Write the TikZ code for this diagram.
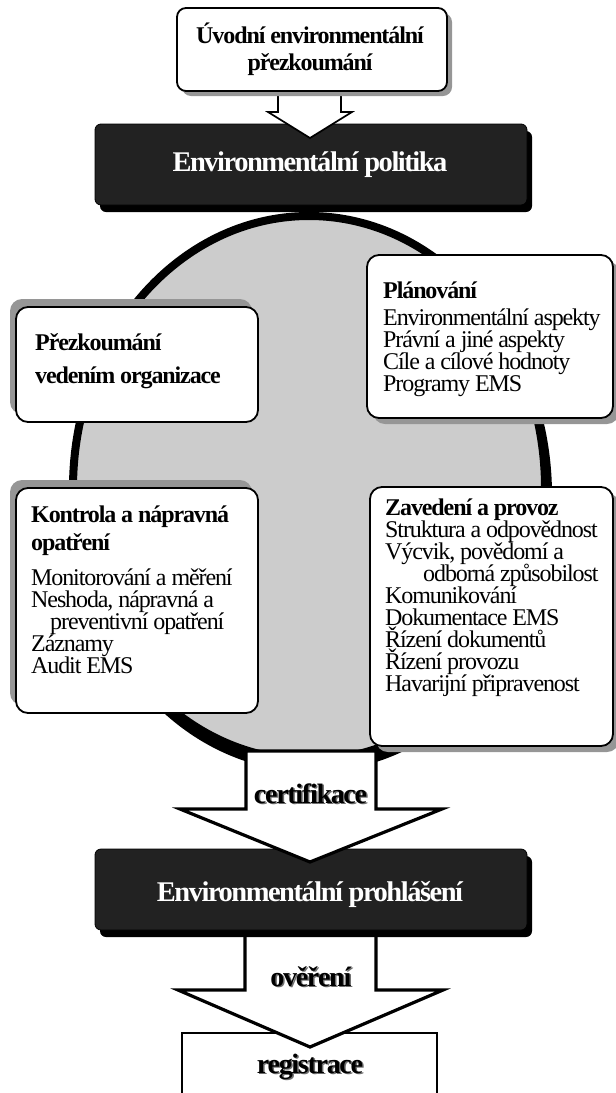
\documentclass[tikz,border=0pt]{standalone}
\usepackage{fontspec}
\setmainfont{Liberation Serif}[LetterSpace=-4.6]
\newfontfamily\titlefont{Liberation Serif}[LetterSpace=-5.2]
\usetikzlibrary{shapes.geometric,shadows}
\definecolor{cgray}{RGB}{204,204,204}
\definecolor{sgray}{RGB}{150,150,150}
\definecolor{dbox}{RGB}{34,34,34}
\definecolor{lshadow}{RGB}{110,110,110}
\newcommand\tightls{\lineskiplimit-100pt\relax}
\begin{document}
\begin{tikzpicture}[x=1pt,y=-1pt,
  wbox/.style={draw, line width=1.8pt, fill=white, rounded corners=12pt, inner sep=0pt},
  shBR/.style={drop shadow={shadow xshift=6pt, shadow yshift=-6pt, fill=sgray, opacity=1}},
  shUL/.style={drop shadow={shadow xshift=-6pt, shadow yshift=8pt, fill=sgray, opacity=1}},
  bbox/.style={fill=dbox, draw=black, line width=0.8pt, rounded corners=6pt, inner sep=0pt,
    drop shadow={shadow xshift=5pt, shadow yshift=-7pt, fill=black, opacity=1}},
  barrow/.style={draw, fill=white, line width=3.2pt, line join=miter},
  txt/.style={inner sep=0pt, align=left, anchor=north west,
    font=\fontsize{24}{22}\selectfont\tightls},
  ttl/.style={inner sep=0pt, anchor=base, text=white, font=\titlefont\fontsize{28.5}{30}\selectfont\bfseries},
  lbl/.style={inner sep=0pt, anchor=base, font=\fontsize{28}{30}\selectfont\bfseries}]
\useasboundingbox (0,0) rectangle (616,1093);
\clip (0,0) rectangle (616,1093);

% cycle ellipse
\fill[black] (312,495) ellipse [x radius=240, y radius=277];
\node (cyc) [ellipse, draw=black, line width=8pt, fill=cgray, minimum width=472pt,
  minimum height=544pt, inner sep=0pt] at (309,488) {};

% Environmental policy
\node (pol) [bbox, minimum width=432pt, minimum height=81pt] at (311,164.5) {};
\node (poltxt) [ttl] at (310,171.7) {Environmentální politika};

% arrow 1
\draw[draw, fill=white, line width=1.7pt, line join=miter]
  (278,91) -- (278,112) -- (268,112) -- (310,138) -- (352,112) -- (341,112) -- (341,91) -- cycle;

% initial review
\node (init) [wbox, rounded corners=9pt, minimum width=270pt, minimum height=83pt,
  drop shadow={shadow xshift=5pt, shadow yshift=-5pt, fill=sgray, opacity=1}] at (312,49.5) {};
\node (inittxt) [inner sep=0pt, align=center, anchor=north,
  font=\fontsize{24}{27}\selectfont\bfseries\tightls] at (310,22.7)
  {\rule{0pt}{20pt}Úvodní environmentální\\přezkoumání};

% management review
\node (rev) [wbox, shUL, minimum width=242pt, minimum height=115pt] at (137,364.5) {};
\node (revtxt) [txt] at (35,330.7)
  {\rule{0pt}{20pt}\textbf{Přezkoumání}\\[10.7pt]\textbf{vedením organizace}};

% planning
\node (plan) [wbox, shBR, minimum width=246pt, minimum height=163pt] at (490,336.5) {};
\node (plantxt) [txt] at (383,278)
  {\rule{0pt}{20pt}\textbf{Plánování}\\[5pt]
   Environmentální aspekty\\
   Právní a jiné aspekty\\
   Cíle a cílové hodnoty\\
   Programy EMS};

% checking
\node (chk) [wbox, shUL, minimum width=242pt, minimum height=225pt] at (137,600.5) {};
\node (chktxt) [txt] at (31,502.7)
  {\rule{0pt}{20pt}\textbf{Kontrola a nápravná}\\[6pt]
   \textbf{opatření}\\[12.3pt]
   Monitorování a měření\\
   Neshoda, nápravná a\\
   \hspace*{19pt}preventivní opatření\\
   Záznamy\\
   Audit EMS};

% implementation
\node (impl) [wbox, shBR, minimum width=243pt, minimum height=259pt] at (491.5,616.5) {};
\node (impltxt) [txt] at (385,495)
  {\rule{0pt}{20pt}\textbf{Zavedení a provoz}\\
   Struktura a odpovědnost\\
   Výcvik, povědomí a\\
   \hspace*{38pt}odborná způsobilost\\
   Komunikování\\
   Dokumentace EMS\\
   Řízení dokumentů\\
   Řízení provozu\\
   Havarijní připravenost};

% registration box
\node (reg) [draw, line width=2.8pt, fill=white, inner sep=0pt, minimum width=255pt,
  minimum height=80pt] at (309.5,1073) {};

% arrow 3 (verification)
\draw[barrow] (245,930) -- (245,990) -- (178,990) -- (310,1047) -- (443,990)
  -- (376,990) -- (376,930) -- cycle;

% Environmental statement
\node (stat) [bbox, minimum width=432pt, minimum height=81pt] at (311,889.5) {};
\node (stattxt) [ttl] at (310,901.7) {Environmentální prohlášení};

% arrow 2 (certification)
\draw[barrow] (246,751) -- (246,809) -- (180,809) -- (310,862) -- (442,809)
  -- (376,809) -- (376,751) -- cycle;

% labels with shadow
\node (certsh) [lbl, text=lshadow] at (312,804.5) {certifikace};
\node (cert) [lbl] at (310.5,803) {certifikace};
\node (oversh) [lbl, text=lshadow] at (312.3,987.5) {ověření};
\node (over) [lbl] at (310.8,986) {ověření};
\node (regsh) [lbl, text=lshadow] at (311.5,1074.5) {registrace};
\node (regtxt) [lbl] at (310,1073) {registrace};
\end{tikzpicture}
\end{document}
